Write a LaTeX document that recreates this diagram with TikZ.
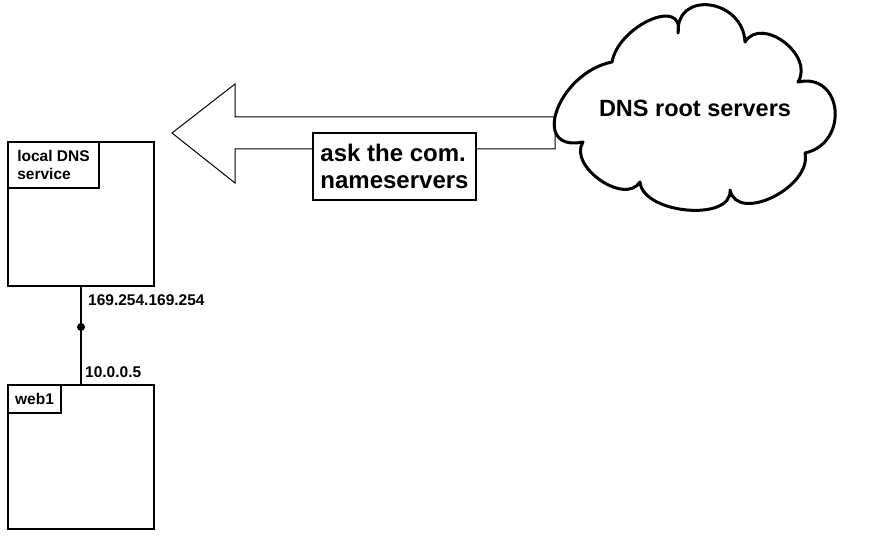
\documentclass[tikz,border=0pt]{standalone}
\usepackage{fontspec}
\setmainfont{Liberation Sans}
\begin{document}
\begin{tikzpicture}[x=1pt,y=-1pt,
  hostbox/.style={draw, line width=2pt, minimum width=146pt, minimum height=144pt, inner sep=0pt, outer sep=0pt, anchor=north west},
  tagbox/.style={draw, line width=1.8pt, anchor=north west, inner sep=0pt, outer sep=0pt, font=\fontsize{15.5}{18}\selectfont\bfseries, align=left},
  iplabel/.style={anchor=base west, inner sep=0pt, font=\fontsize{15.5}{18}\selectfont\bfseries},
  msgbox/.style={draw, fill=white, line width=1.3pt, minimum width=163pt, minimum height=67pt, inner sep=0pt, align=left, font=\fontsize{24}{27}\selectfont\bfseries},
  bigarrow/.style={draw, line width=1pt, line join=miter},
  cloudline/.style={draw, line width=3pt, line join=round},
  linkline/.style={line width=2pt},
  linkdot/.style={circle, fill=black, inner sep=0pt, minimum size=8pt}
]
\useasboundingbox (0,0) rectangle (872,540);

% hosts
\node[hostbox] (localdns) at (8,142) {};
\node[tagbox, minimum width=91pt, minimum height=46pt] (localtag) at (8,142) {local DNS\\service};
\node[hostbox] (web1) at (8,385) {};
\node[tagbox, minimum width=53pt, minimum height=28pt] (webtag) at (8,385) {web1};

% link
\draw[linkline] (localdns.south) -- node[pos=0.414, linkdot] (dot) {} (web1.north);
\node[iplabel] (ipa) at (88,305) {169.254.169.254};
\node[iplabel] (ipb) at (85,377) {10.0.0.5};

% big arrow
\path[bigarrow] (172,133) -- (235,84) -- (235,117) -- (555,117) -- (555,149) -- (235,149) -- (235,183) -- cycle;
\node[msgbox] (ask) at (394.5,166.5) {ask the com.\\nameservers};

% cloud
\path[cloudline] (583,142)
  .. controls (529,152.7) and (558,72.7) .. (612,62)
  .. controls (618.7,25.3) and (684.7,-3.7) .. (678,33)
  .. controls (676,-10.3) and (743,-1.3) .. (745,42)
  .. controls (761.7,15.3) and (814.7,55.3) .. (798,82)
  .. controls (842.7,72) and (849.7,143) .. (805,153)
  .. controls (812.3,187) and (737.3,224) .. (730,190)
  .. controls (732.7,222) and (642.7,214) .. (640,182)
  .. controls (624.7,206) and (567.7,166) .. cycle;
\node[anchor=base, inner sep=0pt, font=\fontsize{23.5}{28}\selectfont\bfseries] (root) at (695,116.7) {DNS root servers};
\end{tikzpicture}
\end{document}
